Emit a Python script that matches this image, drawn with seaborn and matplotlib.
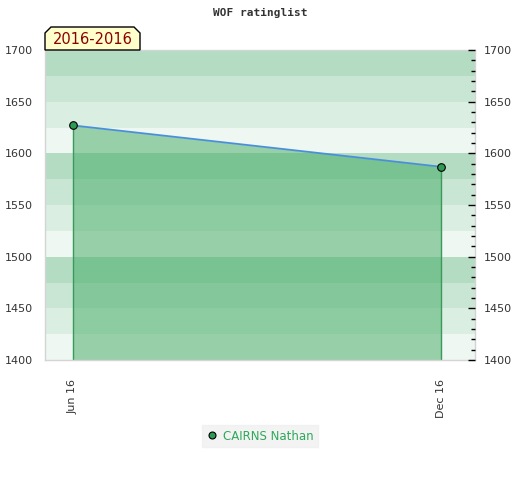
import matplotlib
matplotlib.use("Agg")
import matplotlib.pyplot as plt
from matplotlib.lines import Line2D
from matplotlib.patches import Polygon
from matplotlib.ticker import MultipleLocator
import numpy as np
import pandas as pd
import seaborn as sns

# data
periods = ["Jun 16", "Dec 16"]
ratings = [1627, 1587]
player = "CAIRNS Nathan"
title = "WOF ratinglist"
range_label = "2016-2016"

df = pd.DataFrame({"pos": [0, 1], "period": periods, "rating": ratings})

sns.set_theme(style="white")
plt.rcParams["font.family"] = ["DejaVu Sans"]

fig = plt.figure(figsize=(5.2, 4.8), dpi=100)
ax = fig.add_axes([45 / 520, 120 / 480, 430 / 520, 310 / 480])

# background bands, 25 points each, repeating every 100
band_cols = ["#eef7f1", "#dbeee2", "#c9e6d4", "#b3dcc2"]
for lo in range(1400, 1700, 25):
    ax.axhspan(lo, lo + 25, color=band_cols[(lo // 25) % 4], lw=0, zorder=0)

ax.fill_between(df["pos"], df["rating"], 1400, color="#41a962", alpha=0.5,
                lw=0, zorder=1)
for p, r in zip(df["pos"], df["rating"]):
    ax.plot([p, p], [1400, r], color="#3a9a5a", lw=1, zorder=2)
sns.lineplot(data=df, x="pos", y="rating", ax=ax, color="#4a90d9", lw=1.3,
             zorder=3)
ax.scatter(df["pos"], df["rating"], s=30, color="#2e9a55", edgecolor="black",
           linewidth=0.8, zorder=4)

ax.set_xlim(-0.076, 1.092)
ax.set_ylim(1400, 1700)
ax.set_xticks(df["pos"])
ax.set_xticklabels(df["period"], rotation=90, fontsize=8, color="#333333")
ax.set_yticks(range(1400, 1701, 50))
ax.tick_params(axis="y", length=0, labelsize=8, colors="#333333", pad=9)
ax.tick_params(axis="x", length=0, pad=14)
ax.set_xlabel("")
ax.set_ylabel("")
for s in ax.spines.values():
    s.set_color("#d4d4d4")
    s.set_linewidth(1)

ax2 = ax.twinx()
ax2.set_ylim(1400, 1700)
ax2.yaxis.set_major_locator(MultipleLocator(50))
ax2.yaxis.set_minor_locator(MultipleLocator(10))
ax2.tick_params(axis="y", which="major", direction="in", length=5, width=1,
                colors="black", labelsize=8, pad=6)
ax2.tick_params(axis="y", which="minor", direction="in", length=3, width=1,
                colors="black")
for lab in ax2.get_yticklabels():
    lab.set_color("#333333")
for s in ax2.spines.values():
    s.set_visible(False)

fig.text(0.5, 1 - 13 / 480, title, ha="center", va="center", fontsize=8,
         family="DejaVu Sans Mono", weight="bold", color="#333333")

# range label tag with chamfered top corners
x0, x1, y0, y1, c = 45, 140, 50, 27, 6
pts = [(x0, y0), (x0, y1 + c), (x0 + c, y1), (x1 - c, y1), (x1, y1 + c), (x1, y0)]
pts = [(x / 520, 1 - y / 480) for x, y in pts]
fig.patches.append(Polygon(pts, closed=True, transform=fig.transFigure,
                           facecolor="#ffffcc", edgecolor="black", lw=1,
                           zorder=5))
fig.text((x0 + x1) / 2 / 520, 1 - 39 / 480, range_label, ha="center",
         va="center", fontsize=10.5, color="#8b0000", zorder=6)

handle = Line2D([], [], ls="", marker="o", markersize=5,
                markerfacecolor="#2e9a55", markeredgecolor="black",
                markeredgewidth=0.8)
leg = fig.legend([handle], [player], loc="center", bbox_to_anchor=(0.5, 1 - 436 / 480),
                 frameon=True, fontsize=8.5, handletextpad=0.4,
                 borderpad=0.4, handlelength=1.0, fancybox=False)
leg.get_frame().set_facecolor("#f0f0f0")
leg.get_frame().set_edgecolor("#f0f0f0")
for t in leg.get_texts():
    t.set_color("#2ea85a")

fig.savefig("out.png", dpi=100)
